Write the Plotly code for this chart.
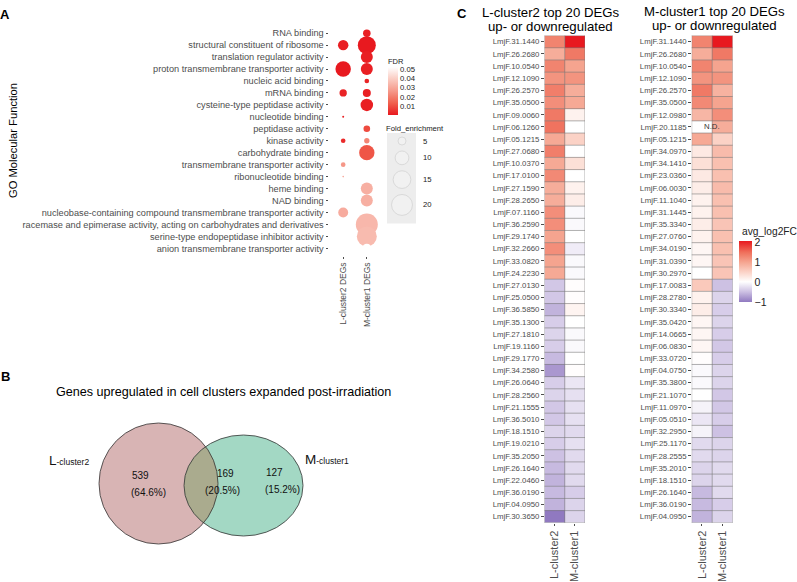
import math
import plotly.graph_objects as go

W, H = 797, 582
FONT = "Liberation Sans, Arial, sans-serif"
RED = "#E8191F"

# ---------------- Panel A data ----------------
go_terms = [
    "RNA binding",
    "structural constituent of ribosome",
    "translation regulator activity",
    "proton transmembrane transporter activity",
    "nucleic acid binding",
    "mRNA binding",
    "cysteine-type peptidase activity",
    "nucleotide binding",
    "peptidase activity",
    "kinase activity",
    "carbohydrate binding",
    "transmembrane transporter activity",
    "ribonucleotide binding",
    "heme binding",
    "NAD binding",
    "nucleobase-containing compound transmembrane transporter activity",
    "racemase and epimerase activity, acting on carbohydrates and derivatives",
    "serine-type endopeptidase inhibitor activity",
    "anion transmembrane transporter activity",
]
dot_cols = ["L-cluster2 DEGs", "M-cluster1 DEGs"]
fe_L = [None, 6.8, None, 12.0, None, 4.6, None, 2.6, None, 3.3, None, 3.3, 2.55, None, None, 6.4, None, None, None]
fe_M = [4.7, 15.4, 8.2, 8.2, 3.3, 5.0, 8.7, None, 4.2, 3.6, 11.8, None, None, 8.2, 8.2, None, 21.8, 18.4, 5.9]
fdr_L = [None, 0.002, None, 0.001, None, 0.003, None, 0.003, None, 0.004, None, 0.026, 0.030, None, None, 0.031, None, None, None]
fdr_M = [0.002, 0.001, 0.002, 0.002, 0.003, 0.002, 0.002, None, 0.010, 0.022, 0.012, None, None, 0.032, 0.032, None, 0.034, 0.035, 0.052]
fe_legend = [5, 10, 15, 20]
fdr_ticks = [0.01, 0.02, 0.03, 0.04, 0.05]

# ---------------- Panel B data ----------------
venn_title = "Genes upregulated in cell clusters expanded post-irradiation"
venn_counts = [539, 169, 127]
venn_pct = ["64.6%", "20.5%", "15.2%"]

# ---------------- Panel C data ----------------
hm_cols = ["L-cluster2", "M-cluster1"]
genes_L = [
    "LmjF.31.1440", "LmjF.26.2680", "LmjF.10.0540", "LmjF.12.1090", "LmjF.26.2570",
    "LmjF.35.0500", "LmjF.09.0060", "LmjF.06.1260", "LmjF.05.1215", "LmjF.27.0680",
    "LmjF.10.0370", "LmjF.17.0100", "LmjF.27.1590", "LmjF.28.2650", "LmjF.07.1160",
    "LmjF.36.2590", "LmjF.29.1740", "LmjF.32.2660", "LmjF.33.0820", "LmjF.24.2230",
    "LmjF.27.0130", "LmjF.25.0500", "LmjF.36.5850", "LmjF.35.1300", "LmjF.27.1810",
    "LmjF.19.1160", "LmjF.29.1770", "LmjF.34.2580", "LmjF.26.0640", "LmjF.28.2560",
    "LmjF.21.1555", "LmjF.36.5010", "LmjF.18.1510", "LmjF.19.0210", "LmjF.35.2050",
    "LmjF.26.1640", "LmjF.22.0460", "LmjF.36.0190", "LmjF.04.0950", "LmjF.30.3650",
]
gL_Lval = [1.30, 0.90, 1.30, 1.15, 1.35, 1.20, 1.40, 1.45, 0.95, 1.35,
           0.95, 1.25, 0.90, 0.90, 1.20, 1.20, 1.00, 1.20, 1.00, 0.95,
           -0.45, -0.45, -0.60, -0.40, -0.35, -0.40, -0.55, -0.80, -0.40, -0.35,
           -0.45, -0.45, -0.35, -0.40, -0.50, -0.55, -0.60, -0.55, -0.60, -1.02]
gL_Mval = [2.06, 1.40, 1.00, 1.15, 0.90, 0.95, 0.15, 0.00, 0.50, 0.00,
           0.35, 0.00, 0.15, 0.20, -0.05, -0.05, 0.00, -0.15, -0.05, -0.05,
           0.02, 0.02, 0.12, 0.00, -0.05, -0.05, 0.00, 0.02, -0.20, -0.25,
           -0.25, -0.25, -0.30, -0.25, -0.30, -0.30, -0.30, -0.40, -0.35, -0.35]
genes_M = [
    "LmjF.31.1440", "LmjF.26.2680", "LmjF.10.0540", "LmjF.12.1090", "LmjF.26.2570",
    "LmjF.35.0500", "LmjF.12.0980", "LmjF.20.1185", "LmjF.05.1215", "LmjF.34.0970",
    "LmjF.34.1410", "LmjF.23.0360", "LmjF.06.0030", "LmjF.11.1040", "LmjF.31.1445",
    "LmjF.35.3340", "LmjF.27.0760", "LmjF.34.0190", "LmjF.31.0390", "LmjF.30.2970",
    "LmjF.17.0083", "LmjF.28.2780", "LmjF.30.3340", "LmjF.35.0420", "LmjF.14.0665",
    "LmjF.06.0830", "LmjF.33.0720", "LmjF.04.0750", "LmjF.35.3800", "LmjF.21.1070",
    "LmjF.11.0970", "LmjF.05.0510", "LmjF.32.2950", "LmjF.25.1170", "LmjF.28.2555",
    "LmjF.35.2010", "LmjF.18.1510", "LmjF.26.1640", "LmjF.36.0190", "LmjF.04.0950",
]
gM_Lval = [1.30, 0.90, 1.30, 1.15, 1.40, 1.25, 0.80, None, 0.95, 0.25,
           0.35, 0.25, 0.20, 0.15, 0.15, 0.20, 0.15, 0.10, 0.10, 0.00,
           0.60, 0.15, 0.20, 0.10, 0.10, 0.10, 0.02, -0.05, -0.05, 0.00,
           -0.10, -0.20, -0.10, -0.30, -0.30, -0.35, -0.35, -0.55, -0.55, -0.60]
gM_Mval = [2.06, 1.40, 1.00, 1.15, 0.85, 1.00, 1.20, 0.90, 0.50, 0.75,
           0.70, 0.70, 0.75, 0.70, 0.70, 0.65, 0.70, 0.70, 0.65, 0.65,
           -0.50, -0.35, -0.40, -0.35, -0.40, -0.45, -0.40, -0.35, -0.35, -0.45,
           -0.45, -0.40, -0.50, -0.35, -0.35, -0.30, -0.30, -0.30, -0.40, -0.35]
hm_ticks = [-1, 0, 1, 2]
nd_gene = "LmjF.20.1185"


def fx(px):
    return px / W


def fy(py):
    return 1 - py / H


def fe_to_diam(fe):
    return math.sqrt(max(25.0 * fe - 61.0, 2.0))


fig = go.Figure()

# ---------- Panel A: dot plot ----------
xs, ys, sz, cc = [], [], [], []
for i, term in enumerate(go_terms):
    for col, fe, fdr in ((dot_cols[0], fe_L[i], fdr_L[i]), (dot_cols[1], fe_M[i], fdr_M[i])):
        if fe is None:
            continue
        xs.append(col)
        ys.append(term)
        sz.append(fe_to_diam(fe))
        cc.append(fdr)
fdr_all = [v for v in fdr_L + fdr_M if v is not None]
fig.add_trace(go.Scatter(
    x=xs, y=ys, mode="markers", xaxis="x", yaxis="y", hoverinfo="skip",
    marker=dict(size=sz, color=cc, coloraxis="coloraxis2", line=dict(width=0), opacity=1),
    showlegend=False,
))

# ---------- Panel C heatmaps ----------
fig.add_trace(go.Heatmap(
    z=[[a, b] for a, b in zip(gL_Lval, gL_Mval)], x=hm_cols, y=genes_L,
    coloraxis="coloraxis", xaxis="x2", yaxis="y2", hoverinfo="skip",
))
fig.add_trace(go.Heatmap(
    z=[[a, b] for a, b in zip(gM_Lval, gM_Mval)], x=hm_cols, y=genes_M,
    coloraxis="coloraxis", xaxis="x3", yaxis="y3", hoverinfo="skip",
))

# ---------- Fold enrichment legend (pixel overlay axis) ----------
leg_top = 134.0
pad = 6.0
diams = [fe_to_diam(v) for v in fe_legend]
centers = []
acc = leg_top
for d in diams:
    h = d + pad
    centers.append(acc + h / 2)
    acc += h
leg_bottom = acc + 5
fig.add_trace(go.Scatter(
    x=[402] * len(fe_legend), y=centers, mode="markers", xaxis="x9", yaxis="y9",
    hoverinfo="skip", showlegend=False,
    marker=dict(size=diams, color="rgba(255,255,255,0.35)", line=dict(color="#D2D2D2", width=1)),
))

vals_all = [v for v in gL_Lval + gL_Mval + gM_Lval + gM_Mval if v is not None]
zmin, zmax = min(vals_all), max(vals_all)


def pos(v):
    return max(0.0, min(1.0, (v - zmin) / (zmax - zmin)))


hm_scale = [
    [0.0, "#9079C0"],
    [pos(-0.5), "#CDC1E3"],
    [pos(0.0), "#FFFFFF"],
    [pos(0.5), "#FBD2C6"],
    [pos(1.0), "#F5A48F"],
    [pos(1.5), "#EF6E5A"],
    [1.0, RED],
]
fdr_scale = [[0, RED], [0.25, "#F0604D"], [0.5, "#F5998A"], [0.75, "#FACCC2"], [1, "#FFFFFF"]]

shapes = []
# heatmap cell borders
for xa, ya, n in (("x2", "y2", len(genes_L)), ("x3", "y3", len(genes_M))):
    for i in range(n + 1):
        shapes.append(dict(type="line", xref=f"{xa} domain", yref=ya, x0=0, x1=1,
                           y0=i - 0.5, y1=i - 0.5, line=dict(color="#7A7A7A", width=0.6), layer="above"))
    for j in range(len(hm_cols) + 1):
        shapes.append(dict(type="line", xref=xa, yref=f"{ya} domain", x0=j - 0.5, x1=j - 0.5,
                           y0=0, y1=1, line=dict(color="#7A7A7A", width=0.6), layer="above"))

# fold-enrichment legend background
shapes.append(dict(type="rect", xref="x9", yref="y9", x0=387, x1=416, y0=leg_top - 1, y1=leg_bottom,
                   fillcolor="#EDEDED", line=dict(width=0), layer="below"))

# Venn ellipses
LC, LR = (158.5, 483.5), (59.5, 60.5)
MC, MR = (243.5, 485.5), (59.5, 50.5)


def inside(p, c, r):
    return ((p[0] - c[0]) / r[0]) ** 2 + ((p[1] - c[1]) / r[1]) ** 2 <= 1.0


def ell(c, r, t):
    return (c[0] + r[0] * math.cos(t), c[1] + r[1] * math.sin(t))


N = 720
arcA = [ell(LC, LR, -math.pi + 2 * math.pi * k / N) for k in range(N + 1)]
arcA = [p for p in arcA if inside(p, MC, MR)]
arcB = [ell(MC, MR, 2 * math.pi * k / N) for k in range(N + 1)]
arcB = [p for p in arcB if inside(p, LC, LR)]
lens = arcA + arcB
lens_path = "M " + " L ".join(f"{x:.2f},{y:.2f}" for x, y in lens) + " Z"

for c, r, col in ((LC, LR, "#D8B4B4"), (MC, MR, "#A3D8C4")):
    shapes.append(dict(type="circle", xref="x9", yref="y9", x0=c[0] - r[0], x1=c[0] + r[0],
                       y0=c[1] - r[1], y1=c[1] + r[1], fillcolor=col, line=dict(width=0), layer="above"))
shapes.append(dict(type="path", xref="x9", yref="y9", path=lens_path, fillcolor="#AAAB8E",
                   line=dict(width=0), layer="above"))
for c, r in ((LC, LR), (MC, MR)):
    shapes.append(dict(type="circle", xref="x9", yref="y9", x0=c[0] - r[0], x1=c[0] + r[0],
                       y0=c[1] - r[1], y1=c[1] + r[1], fillcolor="rgba(0,0,0,0)",
                       line=dict(width=0.8, color="#333333"), layer="above"))

ann = []


def txt(x, y, s, size, color="#000000", xanchor="center", bold=False, angle=0):
    ann.append(dict(x=x, y=y, xref="x9", yref="y9", text=(f"<b>{s}</b>" if bold else s),
                    showarrow=False, xanchor=xanchor, yanchor="middle", textangle=angle,
                    font=dict(size=size, color=color, family=FONT)))


txt(5, 14, "A", 13, bold=True)
txt(5, 376, "B", 13, bold=True)
txt(462, 13, "C", 13, bold=True)
txt(13, 141, "GO Molecular Function", 11.2, angle=-90)
txt(386, 61, "FDR", 7.5, color="#222222", xanchor="left")
txt(384, 128, "Fold_enrichment", 7.7, color="#222222", xanchor="left")
for v, cy in zip(fe_legend, centers):
    txt(421, cy, str(v), 7.7, color="#222222", xanchor="left")

txt(223, 392, venn_title, 12.6)
txt(69, 460, "L<span style='font-size:8.5px'>-cluster2</span>", 13.5, color="#111111")
txt(327, 459, "M<span style='font-size:8.5px'>-cluster1</span>", 13.5, color="#111111")
venn_pos = [(140, 475, 148, 492), (225, 473, 222, 490), (274, 472, 282, 489)]
for (cx1, cy1, cx2, cy2), n, p in zip(venn_pos, venn_counts, venn_pct):
    txt(cx1, cy1, str(n), 10, color="#111111")
    txt(cx2, cy2, f"({p})", 10, color="#111111")

txt(550, 12, "L-cluster2 top 20 DEGs", 13.2)
txt(550, 26, "up- or downregulated", 13.2)
txt(714, 11, "M-cluster1 top 20 DEGs", 13.2)
txt(714, 25, "up- or downregulated", 13.2)
txt(740, 231, "avg_log2FC", 10.2, color="#222222", xanchor="left")

ann.append(dict(x=0.5, y=nd_gene, xref="x3", yref="y3", text="N.D.", showarrow=False,
                font=dict(size=7.8, color="#333333", family=FONT)))

tickfont_small = dict(size=7.8, color="#4D4D4D", family=FONT)

layout = dict(
    width=W, height=H, margin=dict(l=0, r=0, t=0, b=0),
    paper_bgcolor="white", plot_bgcolor="rgba(0,0,0,0)",
    font=dict(family=FONT),
    showlegend=False,
    xaxis=dict(domain=[fx(329), fx(381)], type="category", categoryorder="array",
               categoryarray=dot_cols, range=[-0.6, 1.6], anchor="y", tickangle=-90,
               tickfont=dict(size=8.5, color="#4D4D4D", family=FONT), ticks="outside",
               ticklen=2.5, tickcolor="#4D4D4D", tickwidth=0.6, showgrid=False,
               zeroline=False, showline=False),
    yaxis=dict(domain=[fy(255.5), fy(26)], type="category", categoryorder="array",
               categoryarray=go_terms, range=[len(go_terms) - 0.4, -0.6], anchor="x",
               tickfont=dict(size=9.2, color="#4D4D4D", family=FONT), ticks="outside",
               ticklen=2.5, tickcolor="#4D4D4D", tickwidth=0.6, showgrid=False,
               zeroline=False, showline=False),
    xaxis2=dict(domain=[fx(544.5), fx(585)], type="category", range=[-0.5, 1.5], anchor="y2",
                tickangle=-90, tickfont=dict(size=11, color="#4D4D4D", family=FONT),
                ticks="outside", ticklen=2.5, tickcolor="#4D4D4D", tickwidth=0.6,
                showgrid=False, zeroline=False),
    yaxis2=dict(domain=[fy(522.8), fy(35.6)], type="category", categoryorder="array",
                categoryarray=genes_L, range=[len(genes_L) - 0.5, -0.5], anchor="x2",
                tickfont=tickfont_small, ticks="outside", ticklen=2.5, tickcolor="#4D4D4D",
                tickwidth=0.6, showgrid=False, zeroline=False),
    xaxis3=dict(domain=[fx(691.7), fx(732.7)], type="category", range=[-0.5, 1.5], anchor="y3",
                tickangle=-90, tickfont=dict(size=11, color="#4D4D4D", family=FONT),
                ticks="outside", ticklen=2.5, tickcolor="#4D4D4D", tickwidth=0.6,
                showgrid=False, zeroline=False),
    yaxis3=dict(domain=[fy(522.8), fy(35.6)], type="category", categoryorder="array",
                categoryarray=genes_M, range=[len(genes_M) - 0.5, -0.5], anchor="x3",
                tickfont=tickfont_small, ticks="outside", ticklen=2.5, tickcolor="#4D4D4D",
                tickwidth=0.6, showgrid=False, zeroline=False),
    xaxis9=dict(domain=[0, 1], range=[0, W], anchor="y9", visible=False, fixedrange=True),
    yaxis9=dict(domain=[0, 1], range=[H, 0], anchor="x9", visible=False, fixedrange=True),
    coloraxis=dict(colorscale=hm_scale, cmin=zmin, cmax=zmax,
                   colorbar=dict(x=fx(739), xanchor="left", y=fy(272), yanchor="middle",
                                 len=61, lenmode="pixels", thickness=13, outlinewidth=0,
                                 xpad=0, ypad=0, tickvals=hm_ticks, ticks="",
                                 tickfont=dict(size=10.5, color="#222222", family=FONT),
                                 title=dict(text=""))),
    coloraxis2=dict(colorscale=fdr_scale, cmin=min(fdr_all), cmax=max(fdr_all),
                    colorbar=dict(x=fx(387.5), xanchor="left", y=fy(91), yanchor="middle",
                                  len=48, lenmode="pixels", thickness=10, outlinewidth=0,
                                  xpad=0, ypad=0, tickvals=fdr_ticks, tickformat=".2f", ticks="",
                                  tickfont=dict(size=7.7, color="#222222", family=FONT),
                                  title=dict(text=""))),
    shapes=shapes,
    annotations=ann,
)
fig.update_layout(**layout)
fig.write_html("out.html", config={"displayModeBar": False},
               post_script="document.body.style.margin='0px';")
